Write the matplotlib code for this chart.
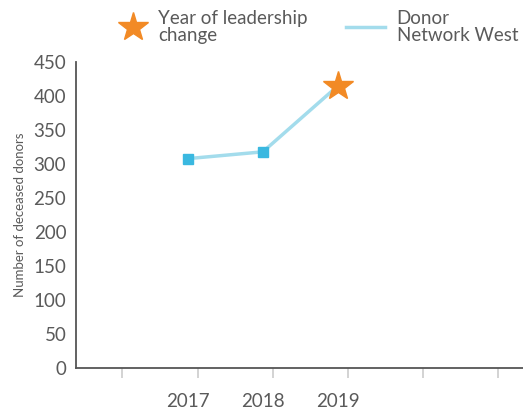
import matplotlib.pyplot as plt
from matplotlib.lines import Line2D

years = [2017, 2018, 2019]
donors = [308, 318, 415]
change_year = 2019
change_value = 415
y_ticks = [0, 50, 100, 150, 200, 250, 300, 350, 400, 450]
x_minor = [2016.12, 2017.13, 2018.13, 2019.13, 2020.13, 2021.13]

plt.rcParams['font.family'] = ['Lato', 'DejaVu Sans']
txt = '#5a5a5a'

fig = plt.figure(figsize=(5.23, 4.09), dpi=100)
ax = fig.add_axes([0.1453, 0.1002, 0.8547, 0.748])

ax.plot(years, donors, color='#a3dcec', lw=2.5, zorder=2)
ax.plot(years[:2], donors[:2], ls='none', marker='s', ms=7, color='#3ab8e0', zorder=3)
ax.plot([change_year], [change_value], ls='none', marker='*', ms=22, color='#f28a25', zorder=4)

ax.set_xlim(2015.507, 2021.47)
ax.set_ylim(0, 450)
ax.set_yticks(y_ticks)
ax.set_xticks(years)
ax.set_xticks(x_minor, minor=True)
ax.tick_params(axis='x', which='major', length=0, pad=18, labelsize=13.5, labelcolor=txt)
ax.tick_params(axis='x', which='minor', length=7, width=1.2, color='#cccccc', direction='out')
ax.tick_params(axis='y', length=0, pad=7, labelsize=13.5, labelcolor=txt)
for s in ['top', 'right']:
    ax.spines[s].set_visible(False)
for s in ['left', 'bottom']:
    ax.spines[s].set_color('#555555')
    ax.spines[s].set_linewidth(1.3)
ax.set_ylabel('Number of deceased donors', fontsize=9.5, color=txt, labelpad=5)

# two separate legend entries across the top
star_h = Line2D([], [], ls='none', marker='*', ms=22, color='#f28a25')
line_h = Line2D([], [], color='#a3dcec', lw=2.5)
opts = dict(frameon=False, fontsize=13.5, labelcolor=txt, borderpad=0,
            borderaxespad=0, handletextpad=0.6, loc='center left')
leg1 = fig.legend([star_h], ['Year of leadership\nchange'],
                  bbox_to_anchor=(0.2275, 0.934), handlelength=1.5, **opts)
leg2 = fig.legend([line_h], ['Donor\nNetwork West'],
                  bbox_to_anchor=(0.6616, 0.934), handlelength=2.1, **opts)
for lg in (leg1, leg2):
    for t in lg.get_texts():
        t.set_linespacing(0.95)

fig.savefig('out.png', dpi=100)
